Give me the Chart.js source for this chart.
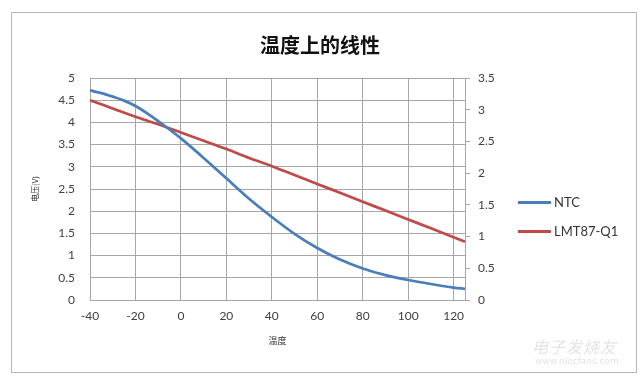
<!DOCTYPE html>
<html>
<head>
<meta charset="utf-8">
<script src="https://cdn.jsdelivr.net/npm/chart.js@4"></script>
<style>
  html, body { margin: 0; padding: 0; background: #fff; }
  #wrap { position: relative; width: 640px; height: 378px; overflow: hidden; }
  #frame { position: absolute; left: 11px; top: 12px; width: 624px; height: 359px; border: 1px solid #b8b8b8; }
  canvas { position: absolute; left: 0; top: 0; }
  .leg { position: absolute; left: 518px; font: 13px Lato, "Open Sans", sans-serif; color: #333; display: flex; align-items: center; }
  .sw { width: 33px; height: 3px; margin-right: 3px; }
  .wm1 { position: absolute; left: 532px; top: 334px; font: italic 16px "Noto Sans CJK SC"; color: #e4e4e4; letter-spacing: 1px; }
  .wm2 { position: absolute; left: 535px; top: 356px; font: 9px "DejaVu Sans"; color: #e4e4e4; }
</style>
</head>
<body>
<div id="wrap">
  <div id="frame"></div>
  <canvas id="c" width="640" height="378"></canvas>
  <div id="legend"></div>
  <div class="wm1">电子发烧友</div>
  <div class="wm2">www.elecfans.com</div>
</div>
<script>
const chartTitle = '温度上的线性';
const xTitle = '温度';
const yTitle = '电压(V)';
const ntcTemps = [-40, -35, -30, -25, -20, -15, -10, -5, 0, 10, 20, 30, 40, 50, 60, 70, 80, 90, 100, 110, 120, 125];
const ntcValues = [4.72, 4.66, 4.58, 4.49, 4.37, 4.21, 4.03, 3.84, 3.64, 3.20, 2.74, 2.28, 1.87, 1.49, 1.17, 0.91, 0.71, 0.56, 0.45, 0.36, 0.28, 0.25];
const lmtTemps = [-40, -30, -20, -10, 0, 10, 20, 30, 40, 50, 60, 70, 80, 90, 100, 110, 120, 125];
const lmtValues = [3.15, 3.02, 2.89, 2.77, 2.64, 2.51, 2.38, 2.24, 2.11, 1.97, 1.83, 1.69, 1.55, 1.41, 1.27, 1.13, 0.99, 0.92];
const seriesNames = ['NTC', 'LMT87-Q1'];
const seriesColors = ['#4A7EBB', '#BE4B48'];

const tickFont = { family: 'Lato, "Open Sans", sans-serif', size: 12 };
const tickColor = '#404040';
const gridColor = '#a6a6a6';
const fmt = (v) => String(Number(v.toFixed(2)));

const toPts = (xs, vals) => xs.map((t, i) => ({ x: t, y: vals[i] }));

const chart = new Chart(document.getElementById('c'), {
  type: 'line',
  data: {
    datasets: [
      { label: seriesNames[0], data: toPts(ntcTemps, ntcValues), yAxisID: 'y', borderColor: seriesColors[0], borderWidth: 2.75, pointRadius: 0, cubicInterpolationMode: 'monotone', fill: false },
      { label: seriesNames[1], data: toPts(lmtTemps, lmtValues), yAxisID: 'y1', borderColor: seriesColors[1], borderWidth: 2.75, pointRadius: 0, cubicInterpolationMode: 'monotone', fill: false }
    ]
  },
  options: {
    responsive: false,
    animation: false,
    layout: { padding: { left: 30, right: 30, top: 0, bottom: 32 } },
    plugins: {
      legend: { display: false },
      tooltip: { enabled: false },
      title: {
        display: true,
        text: chartTitle,
        color: '#111',
        font: { family: '"Noto Sans CJK SC"', size: 20, weight: 'bold', lineHeight: 1.2 },
        padding: { top: 33, bottom: 21 }
      }
    },
    scales: {
      x: {
        type: 'linear',
        min: -40, max: 125,
        ticks: { stepSize: 20, includeBounds: false, font: tickFont, color: tickColor, padding: 9, callback: fmt },
        grid: { color: gridColor, drawTicks: false, lineWidth: 1 },
        border: { color: gridColor },
        title: { display: true, text: xTitle, font: { family: '"Noto Sans CJK SC"', size: 9 }, color: '#333', padding: { top: 6, bottom: 0 } },
        afterFit: (s) => { s.height = 46; }
      },
      y: {
        type: 'linear', position: 'left',
        min: 0, max: 5,
        ticks: { stepSize: 0.5, font: tickFont, color: tickColor, padding: 15, callback: fmt },
        grid: { color: gridColor, drawTicks: false, lineWidth: 1 },
        border: { color: gridColor },
        title: { display: true, text: yTitle, font: { family: '"Noto Sans CJK SC"', size: 8 }, color: '#333', padding: 0 },
        afterFit: (s) => { s.width = 60; }
      },
      y1: {
        type: 'linear', position: 'right',
        min: 0, max: 3.5,
        ticks: { stepSize: 0.5, font: tickFont, color: tickColor, padding: 8, callback: fmt },
        grid: { drawOnChartArea: false, color: gridColor, tickLength: 5 },
        border: { color: gridColor },
        afterFit: (s) => { s.width = 145; }
      }
    }
  }
});

// HTML legend built from the series arrays
const legend = document.getElementById('legend');
seriesNames.forEach((name, i) => {
  const d = document.createElement('div');
  d.className = 'leg';
  d.style.top = (194 + i * 29) + 'px';
  d.innerHTML = '<span class="sw" style="background:' + seriesColors[i] + '"></span><span>' + name + '</span>';
  legend.appendChild(d);
});
</script>
</body>
</html>
